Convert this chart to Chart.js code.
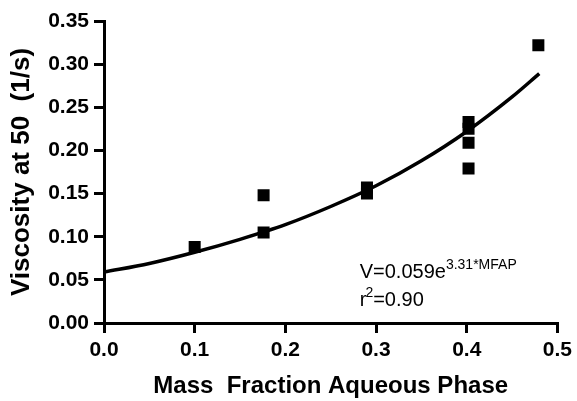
<!DOCTYPE html>
<html>
<head>
<meta charset="utf-8">
<script src="https://cdn.jsdelivr.net/npm/chart.js@4/dist/chart.umd.min.js"></script>
<style>
  body { margin: 0; background: #fff; }
  #wrap { width: 577px; height: 401px; }
</style>
</head>
<body>
<div id="wrap"><canvas id="myChart" width="577" height="401"></canvas></div>
<script>
// measured points
const massFraction = [0.10, 0.176, 0.176, 0.29, 0.29, 0.402, 0.402, 0.402, 0.402, 0.479];
const viscosity = [0.088, 0.148, 0.105, 0.157, 0.150, 0.233, 0.225, 0.209, 0.179, 0.322];

// fitted curve
const fitX = [0, 0.05, 0.10, 0.15, 0.20, 0.25, 0.30, 0.35, 0.40, 0.45, 0.48];
const fitY = [0.059, 0.069, 0.082, 0.097, 0.114, 0.135, 0.159, 0.188, 0.222, 0.262, 0.289];

const xTicks = [0.0, 0.1, 0.2, 0.3, 0.4, 0.5];
const yTicks = [0.00, 0.05, 0.10, 0.15, 0.20, 0.25, 0.30, 0.35];

const FONT = 'Liberation Sans, Arial, sans-serif';

// equation text in the lower right
const fitLabel = {
  id: 'fitLabel',
  afterDraw(chart) {
    const ctx = chart.ctx;
    const xs = chart.scales.x, ys = chart.scales.y;
    const x0 = xs.getPixelForValue(0.282);
    const y1 = ys.getPixelForValue(0.052);
    const y2 = ys.getPixelForValue(0.020);
    ctx.save();
    ctx.fillStyle = '#000';
    ctx.textBaseline = 'alphabetic';
    ctx.textAlign = 'left';
    ctx.font = '20px ' + FONT;
    ctx.fillText('V=0.059e', x0, y1);
    let w = ctx.measureText('V=0.059e').width;
    ctx.font = '14px ' + FONT;
    ctx.fillText('3.31*MFAP', x0 + w, y1 - 9);
    ctx.font = '20px ' + FONT;
    ctx.fillText('r', x0, y2);
    w = ctx.measureText('r').width;
    ctx.font = '14px ' + FONT;
    ctx.fillText('2', x0 + w - 1, y2 - 9);
    const w2 = ctx.measureText('2').width;
    ctx.font = '20px ' + FONT;
    ctx.fillText('=0.90', x0 + w - 1 + w2, y2);
    ctx.restore();
  }
};

const data = {
  datasets: [{
    label: 'Data',
    data: massFraction.map((x, i) => ({ x: x, y: viscosity[i] })),
    showLine: false,
    pointStyle: 'rect',
    pointRadius: 8.5,
    pointHoverRadius: 8.5,
    backgroundColor: '#000',
    borderColor: '#000',
    borderWidth: 0
  }, {
    label: 'Fit',
    data: fitX.map((x, i) => ({ x: x, y: fitY[i] })),
    showLine: true,
    pointRadius: 0,
    borderColor: '#000',
    borderWidth: 3.5,
    tension: 0.4,
    cubicInterpolationMode: 'monotone'
  }]
};

const axisGrid = {
  display: true,
  drawOnChartArea: false,
  drawTicks: true,
  tickLength: 10,
  color: '#000',
  lineWidth: 3
};

const config = {
  type: 'scatter',
  data,
  options: {
    responsive: false,
    animation: false,
    layout: { padding: { top: 21, right: 19, left: 0, bottom: 0 } },
    plugins: { legend: { display: false }, tooltip: { enabled: false } },
    scales: {
      x: {
        type: 'linear',
        min: 0, max: 0.5,
        afterBuildTicks: s => { s.ticks = xTicks.map(v => ({ value: v })); },
        afterFit: s => { s.height = 78; },
        ticks: {
          color: '#000',
          padding: 5,
          font: { family: FONT, size: 21, weight: 'bold' },
          callback: v => v.toFixed(1)
        },
        grid: axisGrid,
        border: { display: true, color: '#000', width: 3 },
        title: {
          display: true,
          text: 'Mass  Fraction Aqueous Phase',
          color: '#000',
          padding: { top: 0, bottom: 0 },
          font: { family: FONT, size: 24, weight: 'bold' }
        }
      },
      y: {
        type: 'linear',
        min: 0, max: 0.35,
        afterBuildTicks: s => { s.ticks = yTicks.map(v => ({ value: v })); },
        afterFit: s => { s.width = 104; },
        ticks: {
          color: '#000',
          padding: 5,
          font: { family: FONT, size: 21, weight: 'bold' },
          callback: v => v.toFixed(2)
        },
        grid: axisGrid,
        border: { display: true, color: '#000', width: 3 },
        title: {
          display: true,
          text: 'Viscosity at 50  (1/s)',
          color: '#000',
          padding: { top: 6, bottom: 0 },
          font: { family: FONT, size: 26, weight: 'bold' }
        }
      }
    }
  },
  plugins: [fitLabel]
};

const myChart = new Chart(document.getElementById('myChart'), config);
</script>
</body>
</html>
